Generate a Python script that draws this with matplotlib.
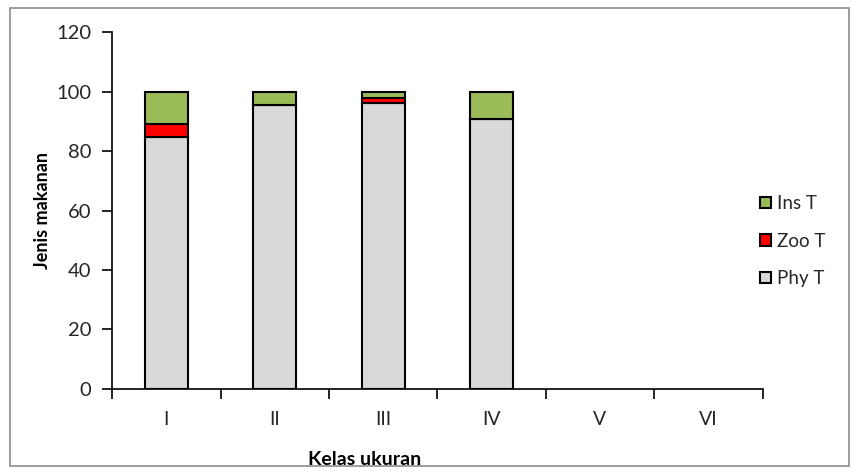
import numpy as np
import matplotlib.pyplot as plt
from matplotlib.patches import Rectangle

# data
kelas = ['I', 'II', 'III', 'IV', 'V', 'VI']
phy_t = [84.7, 95.5, 96.2, 90.9, 0, 0]
zoo_t = [4.5, 0, 1.7, 0, 0, 0]
ins_t = [10.8, 4.5, 2.1, 9.1, 0, 0]

plt.rcParams['font.family'] = ['Lato', 'DejaVu Sans']

fig = plt.figure(figsize=(8.56, 4.72), dpi=100)
ax = fig.add_axes([0.131, 0.176, 0.760, 0.756])

x = np.arange(len(kelas))
phy = np.array(phy_t)
zoo = np.array(zoo_t)
ins = np.array(ins_t)
w = 0.4
has = phy + zoo + ins > 0
b1 = ax.bar(x[has], phy[has], w, color='#d9d9d9', edgecolor='black', linewidth=1.5, label='Phy T')
b2 = ax.bar(x[has], zoo[has], w, bottom=phy[has], color='#ff0000', edgecolor='black', linewidth=1.5, label='Zoo T')
b3 = ax.bar(x[has], ins[has], w, bottom=(phy + zoo)[has], color='#9bbb59', edgecolor='black', linewidth=1.5, label='Ins T')

ax.set_xlim(-0.5, len(kelas) - 0.5)
ax.set_ylim(0, 120)
ax.set_yticks(range(0, 121, 20))
ax.set_xticks(x)
ax.set_xticklabels(kelas)
ax.set_xticks(np.arange(-0.5, len(kelas)), minor=True)
ax.tick_params(axis='x', which='major', length=0, pad=16, labelsize=14, labelcolor='#262626')
ax.tick_params(axis='x', which='minor', length=7, width=1.2, direction='out')
ax.tick_params(axis='y', length=7, width=1.2, direction='out', labelsize=14.5, labelcolor='#262626', pad=8)

for s in ['top', 'right']:
    ax.spines[s].set_visible(False)
for s in ['left', 'bottom']:
    ax.spines[s].set_linewidth(1.2)

ax.set_ylabel('Jenis makanan', fontsize=13, fontweight='bold', labelpad=4)
fig.text(0.426, 0.008, 'Kelas ukuran', fontsize=14, fontweight='bold', ha='center', va='bottom')

leg = ax.legend(handles=[b3, b2, b1], loc='center left', bbox_to_anchor=(0.985, 0.414),
                frameon=False, fontsize=13.5, handlelength=0.55, handleheight=0.55,
                handletextpad=0.35, labelspacing=1.1, borderaxespad=0)
for t in leg.get_texts():
    t.set_color('#262626')

# outer frame
fig.patches.append(Rectangle((0.012, 0.012), 0.98, 0.972, transform=fig.transFigure,
                             fill=False, edgecolor='#8c8c8c', linewidth=1.2))

fig.savefig('out.png', dpi=100)
